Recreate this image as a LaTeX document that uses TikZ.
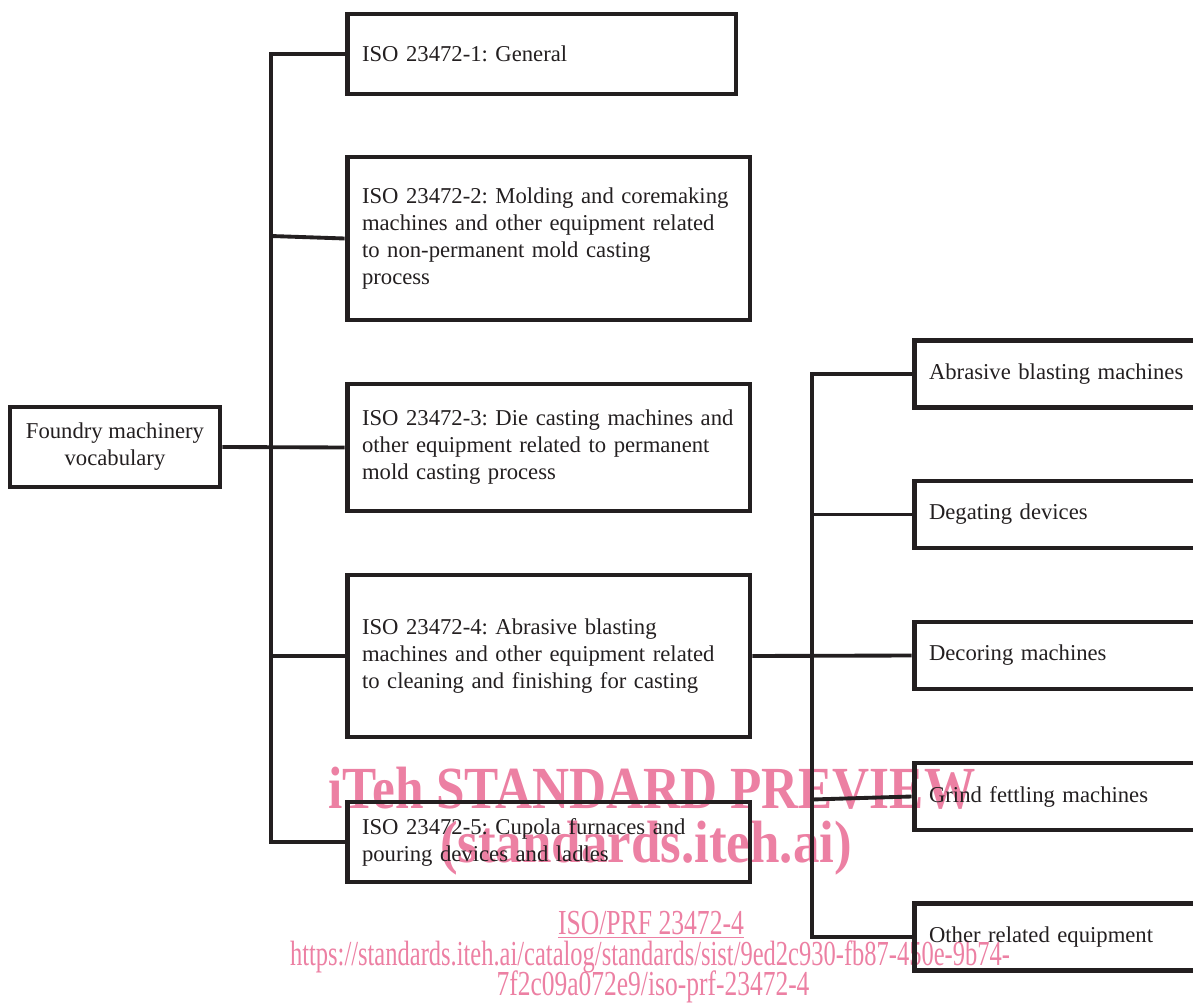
\documentclass[tikz,border=0pt]{standalone}
\usepackage{fontspec}
\setmainfont{Liberation Serif}
\usepackage{graphicx}
\usepackage{xcolor}
\usetikzlibrary{positioning,calc}
\definecolor{inkblack}{RGB}{35,31,32}
\definecolor{markpink}{RGB}{236,128,163}
\frenchspacing

\begin{document}
\begin{tikzpicture}[
    x=0.02cm, y=-0.02cm,
    box/.style={rectangle, draw=inkblack, line width=2.8pt, inner xsep=0.3cm, inner ysep=0pt,
        font=\fontsize{12.9}{15.4}\selectfont, text=inkblack, align=left},
    topic/.style={box, minimum width=8.06cm, text width=7.46cm},
    part/.style={box, minimum width=7cm, minimum height=1.34cm, text width=6.4cm},
    link/.style={draw=inkblack, line width=2.2pt},
    stamp/.style={text=markpink, inner sep=0pt}
]
    \clip (0,0) rectangle (1193,1003);

    % Watermark
    \node[stamp] (wmtitle) at (652,788) {\resizebox{12.94cm}{\height}{\fontsize{34}{34}\selectfont\bfseries iTeh STANDARD PREVIEW}};
    \node[stamp] (wmsite) at (646,848) {\resizebox{8.24cm}{\height}{\fontsize{34}{34}\selectfont\bfseries (standards.iteh.ai)}};
    \node[stamp] (wmdoc) at (651,925) {\resizebox{3.72cm}{\height}{\fontsize{20}{20}\selectfont\underline{ISO/PRF 23472-4}}};
    \node[stamp] (wmurl) at (650,957) {\resizebox{14.4cm}{\height}{\fontsize{20}{20}\selectfont https://standards.iteh.ai/catalog/standards/sist/9ed2c930-fb87-450e-9b74-}};
    \node[stamp] (wmurltail) at (653,987) {\resizebox{6.26cm}{\height}{\fontsize{20}{20}\selectfont 7f2c09a072e9/iso-prf-23472-4}};

    % Root
    \node[box, minimum width=4.2cm, minimum height=1.6cm, inner xsep=0pt, align=center] (vocab) at (115,447) {Foundry machinery\\vocabulary};

    % Parts of the standard
    \node[box, minimum width=7.78cm, minimum height=1.6cm, text width=7.18cm] (general) at (541.5,54) {ISO 23472-1: General};
    \node[topic, minimum height=3.26cm] (molding) at (548.5,238.5) {ISO 23472-2: Molding and coremaking\\machines and other equipment related\\to non-permanent mold casting\\process};
    \node[topic, minimum height=2.54cm] (diecast) at (548.5,447.5) {ISO 23472-3: Die casting machines and\\other equipment related to permanent\\mold casting process};
    \node[topic, minimum height=3.24cm] (cleaning) at (548.5,656) {ISO 23472-4: Abrasive blasting\\machines and other equipment related\\to cleaning and finishing for casting};
    \node[topic, minimum height=1.6cm] (cupola) at (548.5,842) {ISO 23472-5: Cupola furnaces and\\pouring devices and ladles};

    % Cleaning and finishing equipment
    \node[part] (blasting) at (1089,374) {Abrasive blasting machines};
    \node[part] (degating) at (1089,514.5) {Degating devices};
    \node[part] (decoring) at (1089,655.5) {Decoring machines};
    \node[part] (fettling) at (1089,796.5) {Grind fettling machines};
    \node[part] (other) at (1089,937) {Other related equipment};

    % Left tree
    \coordinate (ltop) at (271,54);
    \coordinate (lbot) at (271,842);
    \draw[link] (general.west) -- (ltop) -- (lbot) -- (cupola.west);
    \draw[link] ($(molding.west -| ltop)+(0,-2.5)$) -- (molding.west);
    \draw[link] (vocab.east) -- (diecast.west);
    \draw[link] (cleaning.west -| ltop) -- (cleaning.west);

    % Right tree
    \coordinate (rtop) at (812,374);
    \coordinate (rbot) at (812,937);
    \draw[link] (blasting.west) -- (rtop) -- (rbot) -- (other.west);
    \draw[link] (degating.west -| rtop) -- (degating.west);
    \draw[link] (cleaning.east) -- (decoring.west);
    \draw[link] ($(fettling.west -| rtop)+(0,3)$) -- (fettling.west);
\end{tikzpicture}
\end{document}
